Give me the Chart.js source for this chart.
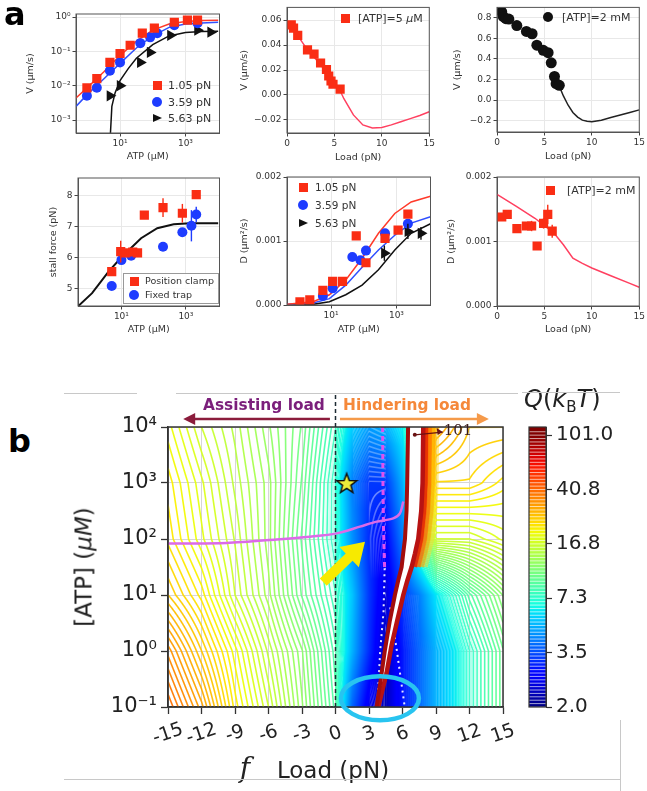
<!DOCTYPE html>
<html>
<head>
<meta charset="utf-8">
<script src="https://cdn.jsdelivr.net/npm/chart.js@4.4.0/dist/chart.umd.min.js"></script>
<style>
  body { margin: 0; background: #fff; }
  #fig { position: relative; width: 647px; height: 791px; overflow: hidden; font-family: 'DejaVu Sans', sans-serif; color: #333; }
  canvas { position: absolute; }
  .t { position: absolute; white-space: nowrap; line-height: 1; }
  .m { position: absolute; }
</style>
</head>
<body>
<div id="fig"></div>
<script>
// ---------------- panel a data ----------------
// V vs ATP (log-log)
const atpRed = [0.97, 1.95, 4.9, 10, 20.4, 47.9, 112, 457, 1150, 2340];
const vRed = [0.0087, 0.0162, 0.0479, 0.087, 0.151, 0.339, 0.479, 0.708, 0.813, 0.813];
const atpBlue = [0.97, 1.95, 4.9, 10, 41.7, 83.2, 138, 457, 2340];
const vBlue = [0.0051, 0.0087, 0.0275, 0.0479, 0.174, 0.257, 0.339, 0.575, 0.661];
const atpBlack = [4.9, 10, 41.7, 83.2, 347, 2340, 5890];
const vBlack = [0.0051, 0.01, 0.0479, 0.0933, 0.295, 0.417, 0.363];
const fitATP = [0.45, 1, 3.16, 10, 31.6, 100, 316, 1000, 3162, 10000];
const fitVRed = [0.0044, 0.0089, 0.0251, 0.0759, 0.2, 0.417, 0.631, 0.741, 0.794, 0.813];
const fitVBlue = [0.0025, 0.0056, 0.0158, 0.0447, 0.126, 0.282, 0.501, 0.631, 0.676, 0.708];
const fitBlackATP = [5.0, 5.62, 7.08, 10, 17.8, 31.6, 100, 316, 1000, 3162, 10000];
const fitVBlack = [0.0003, 0.0025, 0.0063, 0.0141, 0.0316, 0.0631, 0.158, 0.282, 0.355, 0.38, 0.389];

// V vs load, [ATP]=5 uM
const load5 = [0.45, 0.69, 1.13, 2.16, 2.85, 3.54, 4.16, 4.4, 4.64, 4.85, 5.6];
const v5 = [0.0562, 0.0536, 0.0478, 0.0361, 0.0327, 0.0256, 0.0204, 0.0152, 0.0112, 0.0086, 0.0047];
const fitLoad5 = [0, 1, 2, 3, 4, 5, 5.5, 6, 7, 8, 9, 10, 11, 12, 13, 14, 15];
const fitV5 = [0.0585, 0.049, 0.038, 0.029, 0.02, 0.01, 0.005, -0.003, -0.016, -0.024, -0.0265, -0.026, -0.024, -0.0215, -0.019, -0.0165, -0.0135];

// V vs load, [ATP]=2 mM
const load2 = [0.5, 0.67, 0.94, 1.25, 2.09, 3.1, 3.7, 4.2, 4.88, 5.39, 5.72, 6.06, 6.23, 6.57];
const v2 = [0.857, 0.81, 0.79, 0.787, 0.724, 0.667, 0.644, 0.533, 0.483, 0.46, 0.362, 0.229, 0.159, 0.143];
const fitLoad2 = [6.5, 7, 7.5, 8, 8.5, 9, 9.5, 10, 11, 12, 13, 14, 15];
const fitV2 = [0.15, 0.04, -0.05, -0.12, -0.165, -0.195, -0.205, -0.21, -0.195, -0.17, -0.145, -0.12, -0.095];

// stall force vs ATP
const pcATP = [5.0, 9.5, 13.5, 22.4, 31.6, 51.3, 195, 776, 2090];
const pcForce = [5.55, 6.19, 6.15, 6.18, 6.15, 7.36, 7.6, 7.42, 8.02];
const pcErr = [0.1, 0.35, 0.1, 0.1, 0.1, 0.1, 0.3, 0.3, 0.1];
const ftATP = [5.0, 10, 20, 195, 776, 1480, 2090];
const ftForce = [5.09, 5.92, 6.06, 6.35, 6.81, 7.02, 7.38];
const ftErr = [0, 0, 0, 0, 0, 0.5, 0.25];
const fitStallATP = [0.45, 1.23, 3.98, 10, 40.7, 129, 417, 1349, 10000];
const fitStall = [4.44, 4.86, 5.55, 6.01, 6.62, 6.94, 7.07, 7.1, 7.1];

// D vs ATP
const dAtpRed = [1.12, 2.24, 5.62, 11.2, 22.4, 58.9, 117, 447, 1122, 2239];
const dRed = [0.00005, 0.00008, 0.00023, 0.00037, 0.00037, 0.00108, 0.00066, 0.00104, 0.00117, 0.00142];
const dAtpBlue = [5.62, 11.2, 44.7, 79.4, 117, 447, 2239];
const dBlue = [0.00014, 0.00026, 0.00075, 0.0007, 0.00085, 0.00112, 0.00127];
const dAtpBlack = [427, 2239, 5623];
const dBlack = [0.00081, 0.00115, 0.00112];
const dBlackErr = [0.00012, 0.00012, 0.0001];
const fitDATP = [0.45, 2.82, 8.91, 28.2, 89.1, 282, 891, 2818, 11000];
const fitDRed = [0.00001, 0.00005, 0.00016, 0.00039, 0.00073, 0.00112, 0.00143, 0.00161, 0.0017];
const fitDBlue = [0.00001, 0.00003, 0.0001, 0.00031, 0.00059, 0.00086, 0.00109, 0.00128, 0.00138];
const fitDBlack = [0.0, 0.00001, 0.00005, 0.00016, 0.00031, 0.00055, 0.00086, 0.00112, 0.00127];

// D vs load, [ATP]=2 mM
const dLoad = [0.5, 1.08, 2.1, 3.1, 3.65, 4.23, 4.91, 5.35, 5.82];
const dLoadVal = [0.00138, 0.00142, 0.0012, 0.00124, 0.00124, 0.00093, 0.00128, 0.00142, 0.00116];
const dLoadErr = [0, 0, 0, 0.00005, 0.00008, 0, 0.00008, 0.00015, 0.0001];
const fitDLoad = [0, 2, 4, 6, 7, 8, 9, 10, 12, 14, 15];
const fitDLoadVal = [0.00173, 0.00155, 0.00136, 0.00113, 0.00095, 0.00074, 0.00066, 0.00059, 0.00047, 0.00035, 0.00029];

// ---------------- panel b data ----------------
const qF = [-15, -12, -9, -6, -3, 0, 1.5, 3, 4.5, 6, 7.5, 9, 12, 15];
const qATP = [1e4, 1e3, 1e2, 1e1, 1, 0.1];
const qGrid = [
  [20.1, 16.8, 14.8, 12.5, 10.6, 7.9, 5.6, 4.7, 5.0, 6.3, 13.6, 31.3, 26.2, 26.2],
  [21.9, 18.4, 15.4, 13.1, 10.2, 7.3, 4.2, 3.3, 3.3, 5.0, 11.1, 24.0, 24.0, 21.9],
  [22.9, 19.2, 16.1, 13.1, 9.8, 7.3, 4.5, 3.2, 2.8, 4.2, 9.0, 16.8, 16.8, 18.4],
  [26.2, 21.9, 16.8, 13.6, 10.2, 7.9, 5.4, 3.3, 2.5, 3.3, 4.2, 6.1, 9.0, 12.0],
  [34.2, 26.2, 20.1, 15.4, 12.0, 8.6, 5.05, 3.2, 2.3, 3.0, 3.8, 5.05, 7.3, 10.2],
  [40.8, 31.3, 21.9, 16.8, 12.5, 9.0, 3.8, 2.6, 2.3, 3.0, 3.8, 5.05, 7.3, 10.2]
];
const qLevels = [2.0, 3.5, 7.3, 16.8, 40.8, 101.0];
const cbLabels = ['2.0', '3.5', '7.3', '16.8', '40.8', '101.0'];
const fTicks = [-15, -12, -9, -6, -3, 0, 3, 6, 9, 12, 15];
const atpTicks = [0.1, 1, 10, 100, 1000, 10000];
const atpLabels = ['10⁻¹', '10⁰', '10¹', '10²', '10³', '10⁴'];

const bandLF = [6.5, 6.42, 6.36, 6.22, 6.06, 5.92, 5.61, 5.32, 4.87, 4.43, 4.04, 3.68];
const bandLATP = [1e4, 1000, 316, 100, 55, 31.6, 18, 10, 3.5, 1.05, 0.3, 0.1];
const bandRF = [7.86, 7.8, 7.68, 7.41, 7.12, 6.82, 6.43, 6.07, 5.53, 5.02, 4.57, 3.83];
const bandRATP = [1e4, 1000, 316, 100, 55, 31.6, 18, 10, 3.5, 1.26, 0.4, 0.1];
const magF = [-15, -9.75, -5.27, -2.29, 0.1, 2.19, 3.68, 5.17, 5.77, 6.07];
const magATP = [83, 85, 98, 110, 126, 166, 204, 234, 288, 468];
const ridgeF = [4.22, 4.25, 4.3, 4.4];
const ridgeATP = [1e4, 1000, 150, 30];
const ridgeWF = [4.4, 4.3, 4.0, 3.75];
const ridgeWATP = [30, 5, 1, 0.1];
const ridgeW2F = [4.9, 5.5, 6.2];
const ridgeW2ATP = [6, 1, 0.1];
const starF = 1.0, starATP = 1000;

// ---------------- helpers ----------------
const fig = document.getElementById('fig');
Chart.defaults.font.family = 'DejaVu Sans';
Chart.defaults.font.size = 9;
Chart.defaults.color = '#333';
Chart.defaults.animation = false;
Chart.defaults.events = [];
Chart.defaults.plugins.legend.display = false;
Chart.defaults.plugins.tooltip.enabled = false;

const RED = '#fa2d14', BLUE = '#1e3cff', BLACK = '#111';
const xy = (xs, ys) => xs.map((x, i) => ({x, y: ys[i]}));

function txt(html, x, y, css, tr) {
  const d = document.createElement('div');
  d.className = 't';
  d.innerHTML = html;
  d.style.cssText = `left:${x}px;top:${y}px;transform:${tr || 'translate(0,-50%)'};${css || ''}`;
  fig.appendChild(d);
  return d;
}
function marker(kind, color, cx, cy, s) {
  const d = document.createElement('div');
  d.className = 'm';
  if (kind === 'tr') {
    d.style.cssText = `left:${cx - s / 2}px;top:${cy - s / 2}px;width:0;height:0;border-top:${s / 2}px solid transparent;border-bottom:${s / 2}px solid transparent;border-left:${s}px solid ${color}`;
  } else {
    d.style.cssText = `left:${cx - s / 2}px;top:${cy - s / 2}px;width:${s}px;height:${s}px;background:${color};` + (kind === 'ci' ? 'border-radius:50%' : '');
  }
  fig.appendChild(d);
}
function legend(x, y, step, items, fs, tx) {
  items.forEach((it, k) => {
    marker(it[0], it[1], x, y + k * step, it[0] === 'ci' ? 10 : 9);
    txt(it[2], x + (tx || 11), y + k * step, `font-size:${fs}px;color:#333`);
  });
}

// frame on all four sides, like the original axes boxes
const frame = {
  id: 'frame',
  afterDatasetsDraw(chart, args, opts) {
    const {ctx, chartArea: a} = chart;
    ctx.save();
    ctx.strokeStyle = opts.color || '#555';
    ctx.lineWidth = opts.width || 1;
    ctx.strokeRect(a.left, a.top, a.right - a.left, a.bottom - a.top);
    ctx.restore();
  }
};
// vertical error bars from a dataset's errs array
const errbars = {
  id: 'errbars',
  afterDatasetsDraw(chart) {
    const {ctx, scales: {x, y}} = chart;
    chart.data.datasets.forEach(ds => {
      if (!ds.errs) return;
      ctx.save();
      ctx.strokeStyle = ds.backgroundColor;
      ctx.lineWidth = 1.4;
      ds.data.forEach((p, i) => {
        const e = ds.errs[i];
        if (!e) return;
        const px = x.getPixelForValue(p.x);
        ctx.beginPath();
        ctx.moveTo(px, y.getPixelForValue(p.y - e));
        ctx.lineTo(px, y.getPixelForValue(p.y + e));
        ctx.stroke();
      });
      ctx.restore();
    });
  }
};

function ax(type, min, max, ticks, labels, title) {
  return {
    type, min, max,
    afterBuildTicks: s => { s.ticks = ticks.map(v => ({value: v})); },
    ticks: {callback: v => labels[ticks.indexOf(v)], font: {size: 9}, color: '#333', padding: 2, maxRotation: 0, autoSkip: false},
    grid: {color: '#e8e8e8', tickLength: 3.5, tickColor: '#444'},
    border: {color: '#555'},
    title: {display: !!title, text: title, font: {size: 9.5}, color: '#333'}
  };
}

function makeChart(box, cfg) {
  const {L, T, W, H, cl, ct, cr, cb, ytx, xty} = box;
  const cv = document.createElement('canvas');
  cv.width = cr - cl;
  cv.height = cb - ct;
  cv.style.left = cl + 'px';
  cv.style.top = ct + 'px';
  fig.appendChild(cv);
  cfg.options = cfg.options || {};
  cfg.options.responsive = false;
  cfg.options.layout = {padding: {left: 0, top: T - ct, right: cr - (L + W), bottom: 0}};
  const sx = cfg.options.scales.x, sy = cfg.options.scales.y;
  sx.afterFit = s => { s.height = cb - (T + H); };
  sy.afterFit = s => { s.width = L - cl; };
  if (sy.title && sy.title.display) {
    const lh = sy.title.font.size * 1.2;
    sy.title.padding = {top: ytx - cl - lh / 2, bottom: 0};
  }
  if (sx.title && sx.title.display) {
    const lh = sx.title.font.size * 1.2;
    sx.title.padding = {top: 0, bottom: cb - xty - lh / 2};
  }
  return new Chart(cv, cfg);
}

const pts = (data, kind, color, extra) => Object.assign({
  data, pointStyle: kind === 'sq' ? 'rect' : kind === 'ci' ? 'circle' : 'triangle',
  rotation: kind === 'tr' ? 90 : 0,
  pointRadius: kind === 'sq' ? 6.5 : kind === 'ci' ? 5 : 6.5,
  backgroundColor: color, borderColor: color, borderWidth: 0
}, extra || {});
const line = (data, color, w) => ({data, showLine: true, borderColor: color, borderWidth: w || 1.5, pointRadius: 0, backgroundColor: color});

const logX = ['10¹', '10³'];

// ---------------- panel a charts ----------------
makeChart({L: 76, T: 14, W: 146, H: 119, cl: 20, ct: 0, cr: 226, cb: 165, ytx: 31, xty: 157}, {
  type: 'scatter',
  data: {datasets: [
    pts(xy(atpRed, vRed), 'sq', RED),
    pts(xy(atpBlue, vBlue), 'ci', BLUE),
    pts(xy(atpBlack, vBlack), 'tr', BLACK),
    line(xy(fitATP, fitVRed), '#ff3a2a'),
    line(xy(fitATP, fitVBlue), '#3050ff'),
    line(xy(fitBlackATP, fitVBlack), '#111')
  ]},
  options: {scales: {
    x: ax('logarithmic', 0.45, 11000, [10, 1000], logX, 'ATP (μM)'),
    y: ax('logarithmic', 0.00042, 1.23, [0.001, 0.01, 0.1, 1], ['10⁻³', '10⁻²', '10⁻¹', '10⁰'], 'V (μm/s)')
  }},
  plugins: [frame]
});

makeChart({L: 287, T: 5, W: 146, H: 128, cl: 232, ct: 0, cr: 437, cb: 165, ytx: 245, xty: 158}, {
  type: 'scatter',
  data: {datasets: [
    pts(xy(load5, v5), 'sq', RED),
    line(xy(fitLoad5, fitV5), '#ff4060')
  ]},
  options: {scales: {
    x: ax('linear', 0, 15, [0, 5, 10, 15], ['0', '5', '10', '15'], 'Load (pN)'),
    y: ax('linear', -0.0305, 0.0702, [-0.02, 0, 0.02, 0.04, 0.06], ['−0.02', '0.00', '0.02', '0.04', '0.06'], 'V (μm/s)')
  }},
  plugins: [frame]
});

makeChart({L: 497, T: 6, W: 146, H: 126, cl: 445, ct: 0, cr: 647, cb: 165, ytx: 458, xty: 157}, {
  type: 'scatter',
  data: {datasets: [
    pts(xy(load2, v2), 'ci', BLACK, {pointRadius: 5.5}),
    line(xy(fitLoad2, fitV2), '#222')
  ]},
  options: {scales: {
    x: ax('linear', 0, 15, [0, 5, 10, 15], ['0', '5', '10', '15'], 'Load (pN)'),
    y: ax('linear', -0.31, 0.9, [-0.2, 0, 0.2, 0.4, 0.6, 0.8], ['−0.2', '0.0', '0.2', '0.4', '0.6', '0.8'], 'V (μm/s)')
  }},
  plugins: [frame]
});

makeChart({L: 78, T: 178, W: 144, H: 128, cl: 40, ct: 168, cr: 226, cb: 338, ytx: 54, xty: 330}, {
  type: 'scatter',
  data: {datasets: [
    pts(xy(pcATP, pcForce), 'sq', RED, {errs: pcErr}),
    pts(xy(ftATP, ftForce), 'ci', BLUE, {errs: ftErr}),
    line(xy(fitStallATP, fitStall), '#111', 2)
  ]},
  options: {scales: {
    x: ax('logarithmic', 0.45, 11000, [10, 1000], logX, 'ATP (μM)'),
    y: ax('linear', 4.45, 8.55, [5, 6, 7, 8], ['5', '6', '7', '8'], 'stall force (pN)')
  }},
  plugins: [errbars, frame]
});

makeChart({L: 287, T: 177, W: 146, H: 128, cl: 232, ct: 168, cr: 437, cb: 338, ytx: 245, xty: 330}, {
  type: 'scatter',
  data: {datasets: [
    pts(xy(dAtpRed, dRed), 'sq', RED),
    pts(xy(dAtpBlue, dBlue), 'ci', BLUE),
    pts(xy(dAtpBlack, dBlack), 'tr', BLACK, {errs: dBlackErr}),
    line(xy(fitDATP, fitDRed), '#ff3a2a'),
    line(xy(fitDATP, fitDBlue), '#3050ff'),
    line(xy(fitDATP, fitDBlack), '#111')
  ]},
  options: {scales: {
    x: ax('logarithmic', 0.45, 11000, [10, 1000], logX, 'ATP (μM)'),
    y: ax('linear', 0, 0.002, [0, 0.001, 0.002], ['0.000', '0.001', '0.002'], 'D (μm²/s)')
  }},
  plugins: [errbars, frame]
});

makeChart({L: 497, T: 177, W: 146, H: 129, cl: 445, ct: 168, cr: 647, cb: 338, ytx: 452, xty: 330}, {
  type: 'scatter',
  data: {datasets: [
    pts(xy(dLoad, dLoadVal), 'sq', RED, {errs: dLoadErr}),
    line(xy(fitDLoad, fitDLoadVal), '#ff4060')
  ]},
  options: {scales: {
    x: ax('linear', 0, 15, [0, 5, 10, 15], ['0', '5', '10', '15'], 'Load (pN)'),
    y: ax('linear', 0, 0.002, [0, 0.001, 0.002], ['0.000', '0.001', '0.002'], 'D (μm²/s)')
  }},
  plugins: [errbars, frame]
});

// panel a legends
legend(157, 85, 16.5, [['sq', RED, '1.05 pN'], ['ci', BLUE, '3.59 pN'], ['tr', BLACK, '5.63 pN']], 11);
legend(345, 18, 0, [['sq', RED, '[ATP]=5 <i>μ</i>M']], 11, 13);
legend(548, 17, 0, [['ci', BLACK, '[ATP]=2 mM']], 11, 14);
legend(303, 187, 18, [['sq', RED, '1.05 pN'], ['ci', BLUE, '3.59 pN'], ['tr', BLACK, '5.63 pN']], 10.5, 12);
legend(550, 190, 0, [['sq', RED, '[ATP]=2 mM']], 11, 17);
{
  const b = document.createElement('div');
  b.className = 'm';
  b.style.cssText = 'left:123px;top:273px;width:94px;height:29px;border:1px solid #999;background:rgba(255,255,255,0.85)';
  fig.appendChild(b);
  legend(134, 281, 14, [['sq', RED, 'Position clamp'], ['ci', BLUE, 'Fixed trap']], 9.5);
}
txt('a', 4, 14, 'font-size:32px;font-weight:bold;color:#000');

// ---------------- panel b ----------------
function jet(t) {
  t = Math.max(0, Math.min(1, t));
  const r = t < 0.35 ? 0 : t < 0.66 ? (t - 0.35) / 0.31 : t < 0.89 ? 1 : 1 - 0.5 * (t - 0.89) / 0.11;
  const g = t < 0.125 ? 0 : t < 0.375 ? (t - 0.125) / 0.25 : t < 0.64 ? 1 : t < 0.91 ? 1 - (t - 0.64) / 0.27 : 0;
  const b = t < 0.11 ? 0.5 + 0.5 * t / 0.11 : t < 0.34 ? 1 : t < 0.65 ? 1 - (t - 0.34) / 0.31 : 0;
  return [r * 255, g * 255, b * 255];
}
// position of a Q value on the colour bar (0..1), ticks equally spaced
function qToT(q) {
  const n = qLevels.length - 1, lq = Math.log(q);
  for (let k = 0; k < n; k++) {
    const a = Math.log(qLevels[k]), b = Math.log(qLevels[k + 1]);
    if (lq <= b || k === n - 1) return (k + (lq - a) / (b - a)) / n;
  }
}
const rgb = c => `rgb(${c.map(Math.round).join(',')})`;
const clamp01 = v => Math.max(0, Math.min(1, v));

const heat = {
  id: 'heat',
  beforeDatasetsDraw(chart) {
    const {ctx, chartArea: ca, scales: {x, y}} = chart;
    const W = Math.round(ca.right - ca.left), H = Math.round(ca.bottom - ca.top);
    const lgA = qATP.map(v => Math.log10(v));
    const tg = qGrid.map(r => r.map(qToT));
    const colF = [];
    for (let i = 0; i < W; i++) colF.push(x.getValueForPixel(ca.left + i + 0.5));
    const T = new Float32Array(W * H);
    for (let j = 0; j < H; j++) {
      const ly = Math.log10(y.getValueForPixel(ca.top + j + 0.5));
      let r = 0;
      while (r < lgA.length - 2 && ly < lgA[r + 1]) r++;
      const v = clamp01((lgA[r] - ly) / (lgA[r] - lgA[r + 1]));
      for (let i = 0; i < W; i++) {
        const f = colF[i];
        let c = 0;
        while (c < qF.length - 2 && f > qF[c + 1]) c++;
        const u = clamp01((f - qF[c]) / (qF[c + 1] - qF[c]));
        T[j * W + i] = (1 - v) * ((1 - u) * tg[r][c] + u * tg[r][c + 1]) + v * ((1 - u) * tg[r + 1][c] + u * tg[r + 1][c + 1]);
      }
    }
    const off = document.createElement('canvas');
    off.width = W; off.height = H;
    const octx = off.getContext('2d');
    const img = octx.createImageData(W, H);
    const d = img.data;
    const N = 110;
    for (let j = 0; j < H; j++) {
      for (let i = 0; i < W; i++) {
        const k = j * W + i;
        const t = T[k];
        const gx = (T[j * W + Math.min(W - 1, i + 1)] - T[j * W + Math.max(0, i - 1)]) / 2;
        const gy = (T[Math.min(H - 1, j + 1) * W + i] - T[Math.max(0, j - 1) * W + i]) / 2;
        const g = Math.hypot(gx, gy) * N + 1e-6;
        const fr = t * N;
        const dist = Math.abs(fr - Math.round(fr)) / g;
        const ln = clamp01(1.3 - dist);
        const fill = clamp01((0.43 - t) / 0.07);
        const c = jet(t);
        const wh = fill * ln * 0.5 * clamp01(1 - g * 1.8);
        d[k * 4] = c[0] * (1 - wh) + 255 * wh;
        d[k * 4 + 1] = c[1] * (1 - wh) + 255 * wh;
        d[k * 4 + 2] = c[2] * (1 - wh) + 255 * wh;
        d[k * 4 + 3] = 255 * Math.max(fill, ln * 0.95);
      }
    }
    octx.putImageData(img, 0, 0);
    ctx.save();
    ctx.beginPath();
    ctx.rect(ca.left, ca.top, ca.right - ca.left, ca.bottom - ca.top);
    ctx.clip();
    ctx.drawImage(off, ca.left, ca.top);
    // glow on the right edge of the Q=101 band (upper part)
    const glow = ['rgba(235,40,0,0.95)', 'rgba(255,110,0,0.85)', 'rgba(255,170,0,0.7)', 'rgba(255,215,40,0.5)'];
    const upper = xy(bandRF, bandRATP).filter(p => p.y >= 30);
    glow.forEach((col, k) => {
      ctx.save();
      ctx.translate((k + 1) * 3.5, 0);
      ctx.beginPath();
      upper.forEach((p, i) => {
        const X = x.getPixelForValue(p.x), Y = y.getPixelForValue(p.y);
        i ? ctx.lineTo(X, Y) : ctx.moveTo(X, Y);
      });
      ctx.strokeStyle = col;
      ctx.lineWidth = 4;
      ctx.stroke();
      ctx.restore();
    });
    // region above the top level (Q>101) stays white
    ctx.beginPath();
    xy(bandLF, bandLATP).forEach((p, i) => {
      const X = x.getPixelForValue(p.x), Y = y.getPixelForValue(p.y);
      i ? ctx.lineTo(X, Y) : ctx.moveTo(X, Y);
    });
    xy(bandRF, bandRATP).reverse().forEach(p => ctx.lineTo(x.getPixelForValue(p.x), y.getPixelForValue(p.y)));
    ctx.closePath();
    ctx.fillStyle = '#fff';
    ctx.fill();
    ctx.restore();
  }
};

const anno = {
  id: 'anno',
  afterDraw(chart) {
    const {ctx, chartArea: ca, scales: {x, y}} = chart;
    ctx.save();
    // zero-load dashed line
    const x0 = x.getPixelForValue(0);
    ctx.setLineDash([4, 3]);
    ctx.strokeStyle = '#1d2b33';
    ctx.lineWidth = 1.5;
    ctx.beginPath(); ctx.moveTo(x0, 15); ctx.lineTo(x0, ca.bottom); ctx.stroke();
    ctx.setLineDash([]);
    // header arrows
    const arrow = (xa, xb, yy, col) => {
      ctx.strokeStyle = col; ctx.fillStyle = col; ctx.lineWidth = 2.5;
      ctx.beginPath(); ctx.moveTo(xa, yy); ctx.lineTo(xb, yy); ctx.stroke();
      const s = Math.sign(xb - xa);
      ctx.beginPath(); ctx.moveTo(xb + s * 6, yy); ctx.lineTo(xb - s * 6, yy - 6); ctx.lineTo(xb - s * 6, yy + 6); ctx.closePath(); ctx.fill();
    };
    arrow(x.getPixelForValue(-0.5), x.getPixelForValue(-13.1), 39, '#8b1c3c');
    arrow(x.getPixelForValue(0.4), x.getPixelForValue(13.2), 39, '#f59a4a');
    // x tick labels, slanted
    ctx.fillStyle = '#222';
    ctx.font = '19px DejaVu Sans';
    ctx.textAlign = 'center';
    ctx.textBaseline = 'middle';
    fTicks.forEach(v => {
      ctx.save();
      ctx.translate(x.getPixelForValue(v), ca.bottom + 27);
      ctx.rotate(-0.33);
      ctx.fillText(String(v), 0, 0);
      ctx.restore();
    });
    // yellow arrow
    const ax0 = x.getPixelForValue(-1.1), ay0 = y.getPixelForValue(17);
    const ax1 = x.getPixelForValue(2.64), ay1 = y.getPixelForValue(89);
    const ang = Math.atan2(ay1 - ay0, ax1 - ax0), len = Math.hypot(ax1 - ax0, ay1 - ay0);
    ctx.save();
    ctx.translate(ax0, ay0); ctx.rotate(ang);
    ctx.fillStyle = '#f7ea00';
    ctx.beginPath();
    ctx.moveTo(0, -5); ctx.lineTo(len - 22, -5); ctx.lineTo(len - 22, -14); ctx.lineTo(len, 0);
    ctx.lineTo(len - 22, 14); ctx.lineTo(len - 22, 5); ctx.lineTo(0, 5); ctx.closePath(); ctx.fill();
    ctx.restore();
    // cyan ellipse
    ctx.strokeStyle = '#28c4f0'; ctx.lineWidth = 4.5;
    ctx.beginPath();
    ctx.ellipse(x.getPixelForValue(3.98), y.getPixelForValue(0.143), 39, 22, 0, 0, Math.PI * 2);
    ctx.stroke();
    // ">101" label
    const lx0 = x.getPixelForValue(7.1), ly0 = y.getPixelForValue(7244);
    const lx1 = x.getPixelForValue(9.6), ly1 = y.getPixelForValue(8128);
    ctx.strokeStyle = '#6a1212'; ctx.fillStyle = '#6a1212'; ctx.lineWidth = 1.2;
    ctx.beginPath(); ctx.moveTo(lx0, ly0); ctx.lineTo(lx1, ly1); ctx.stroke();
    ctx.beginPath(); ctx.arc(lx0, ly0, 2, 0, Math.PI * 2); ctx.fill();
    ctx.beginPath(); ctx.moveTo(lx1, ly1); ctx.lineTo(lx1 - 6, ly1 - 4); ctx.lineTo(lx1 - 5, ly1 + 3); ctx.closePath(); ctx.fill();
    ctx.fillStyle = '#3a1a1a';
    ctx.font = '15px DejaVu Serif';
    ctx.textAlign = 'left';
    ctx.fillText('101', lx1 + 1, ly1 - 1);
    ctx.restore();
  }
};

const starImg = document.createElement('canvas');
starImg.width = 24; starImg.height = 24;
{
  const c = starImg.getContext('2d');
  c.beginPath();
  for (let k = 0; k < 10; k++) {
    const r = k % 2 ? 4.4 : 10.5, a = -Math.PI / 2 + k * Math.PI / 5;
    c.lineTo(12 + r * Math.cos(a), 13 + r * Math.sin(a));
  }
  c.closePath();
  c.fillStyle = '#ecec3a'; c.fill();
  c.lineWidth = 1.5; c.strokeStyle = '#111'; c.stroke();
}

makeChart({L: 168, T: 427, W: 335, H: 280, cl: 60, ct: 380, cr: 520, cb: 791}, {
  type: 'scatter',
  data: {datasets: [
    {data: [{x: starF, y: starATP}], pointStyle: starImg, pointRadius: 12},
    {data: xy(magF, magATP), showLine: true, borderColor: '#dc6ae8', borderWidth: 2.5, pointRadius: 0, tension: 0.3},
    {data: xy(bandLF, bandLATP), showLine: true, borderColor: '#a30d0d', borderWidth: 4, pointRadius: 0},
    {data: xy(bandRF, bandRATP), showLine: true, borderColor: '#b81212', borderWidth: 4.5, pointRadius: 0},
    {data: xy(ridgeF, ridgeATP), showLine: true, borderColor: '#e050ee', borderDash: [5, 4], borderWidth: 3, pointRadius: 0},
    {data: xy(ridgeWF, ridgeWATP), showLine: true, borderColor: 'rgba(255,255,255,0.9)', borderDash: [2, 4], borderWidth: 2, pointRadius: 0},
    {data: xy(ridgeW2F, ridgeW2ATP), showLine: true, borderColor: 'rgba(255,255,255,0.9)', borderDash: [2, 4], borderWidth: 2, pointRadius: 0}
  ]},
  options: {scales: {
    x: {type: 'linear', min: -15, max: 15,
        afterBuildTicks: s => { s.ticks = fTicks.map(v => ({value: v})); },
        ticks: {display: false},
        grid: {color: '#d6d6d6', tickLength: 7, tickColor: '#333', tickWidth: 1.3},
        border: {color: '#333', width: 1.5}},
    y: {type: 'logarithmic', min: 0.1, max: 1e4,
        afterBuildTicks: s => { s.ticks = atpTicks.map(v => ({value: v})); },
        ticks: {callback: v => atpLabels[atpTicks.indexOf(v)], font: {size: 21}, color: '#222', padding: 4, autoSkip: false},
        grid: {color: '#d6d6d6', tickLength: 7, tickColor: '#333', tickWidth: 1.3},
        border: {color: '#333', width: 1.5}}
  },
  plugins: {frame: {color: '#333', width: 1.5}}},
  plugins: [heat, frame, anno]
});

// colour bar
{
  const cv = document.createElement('canvas');
  cv.width = 127; cv.height = 411;
  cv.style.left = '520px'; cv.style.top = '380px';
  fig.appendChild(cv);
  const stripes = {
    id: 'stripes',
    afterDatasetsDraw(chart) {
      const {ctx, chartArea: a, scales: {y}} = chart;
      ctx.save();
      ctx.strokeStyle = 'rgba(255,255,255,0.8)';
      ctx.lineWidth = 0.8;
      for (let k = 1; k < 82; k++) {
        const py = y.getPixelForValue(k / 80 * 5);
        if (py < a.top) break;
        ctx.beginPath(); ctx.moveTo(a.left, py); ctx.lineTo(a.right, py); ctx.stroke();
      }
      ctx.strokeStyle = '#333'; ctx.lineWidth = 1.2;
      ctx.strokeRect(a.left, a.top, a.right - a.left, a.bottom - a.top);
      ctx.restore();
    }
  };
  new Chart(cv, {
    type: 'bar',
    data: {labels: [''], datasets: [{
      data: [[0, 5.15]],
      barPercentage: 1, categoryPercentage: 1, borderWidth: 0,
      backgroundColor: c => {
        const ch = c.chart, a = ch.chartArea;
        if (!a) return '#888';
        const y = ch.scales.y;
        const gr = ch.ctx.createLinearGradient(0, y.getPixelForValue(0), 0, y.getPixelForValue(5));
        for (let s = 0; s <= 40; s++) gr.addColorStop(s / 40, rgb(jet(s / 40)));
        return gr;
      }
    }]},
    options: {
      responsive: false,
      layout: {padding: {left: 9, top: 47, right: 11, bottom: 84}},
      scales: {
        x: {display: false},
        y: {position: 'right', min: 0, max: 5.15,
            afterBuildTicks: s => { s.ticks = [0, 1, 2, 3, 4, 5].map(v => ({value: v})); },
            afterFit: s => { s.width = 90; },
            ticks: {callback: v => cbLabels[v], font: {size: 20}, color: '#222', padding: 4, autoSkip: false},
            grid: {drawOnChartArea: false, tickLength: 6, tickColor: '#333', tickWidth: 1.2},
            border: {color: '#333'}}
      }
    },
    plugins: [stripes]
  });
}

// panel b text
txt('b', 8, 441, 'font-size:32px;font-weight:bold;color:#000');
txt('Assisting load', 203, 406, 'font-size:15.4px;font-weight:bold;color:#7b1f7b');
txt('Hindering load', 343, 406, 'font-size:15.4px;font-weight:bold;color:#f5883a');
txt('[ATP] (<i>μM</i>)', 84, 567, 'font-size:23px;color:#222', 'translate(-50%,-50%) rotate(-90deg)');
txt('<i>f</i>', 245, 768, "font-size:28px;font-family:'DejaVu Serif';color:#222", 'translate(-50%,-50%)');
txt('Load (pN)', 333, 770, 'font-size:23px;color:#222', 'translate(-50%,-50%)');
txt('<i>Q</i>(<i>k</i><sub style="font-size:15px">B</sub><i>T</i>)', 524, 401, 'font-size:24px;color:#222');

// thin frame lines from the original layout
[[64, 393, 73, 1], [176, 393, 342, 1], [522, 392, 98, 1], [64, 779, 556, 1], [620, 720, 1, 71]].forEach(r => {
  const d = document.createElement('div');
  d.className = 'm';
  d.style.cssText = `left:${r[0]}px;top:${r[1]}px;width:${r[2]}px;height:${r[3]}px;background:#c8c8c8`;
  fig.appendChild(d);
});
</script>
</body>
</html>
